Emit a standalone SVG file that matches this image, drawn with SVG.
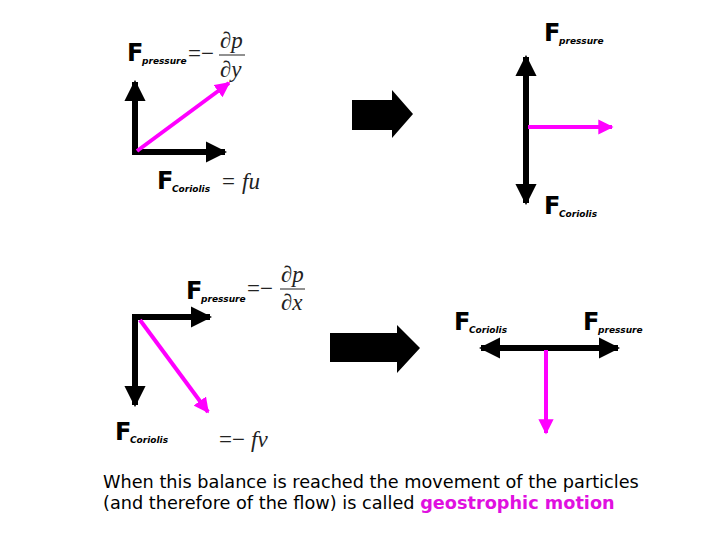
<svg xmlns="http://www.w3.org/2000/svg" width="720" height="540" viewBox="0 0 720 540">
<style>
.F{font-family:"DejaVu Sans",sans-serif;font-weight:bold;font-size:24px;fill:#000}
.s{font-family:"DejaVu Sans",sans-serif;font-weight:bold;font-style:italic;font-size:9px;fill:#000}
.m{font-family:"Liberation Serif",serif;font-style:italic;font-size:23px;fill:#222}
.n{font-family:"Liberation Serif",serif;font-size:23px;fill:#222}
.blk{stroke:#000;stroke-width:6;fill:none}
.mag{stroke:#f0f;stroke-width:4;fill:none}
.t{font-family:"DejaVu Sans",sans-serif;font-size:17.7px;fill:#000}
</style>
<defs>
<marker id="hb" viewBox="0 0 10 10" refX="9" refY="5" markerWidth="3.6" markerHeight="3.6" orient="auto-start-reverse" markerUnits="strokeWidth"><path d="M0,0L10,5L0,10z" fill="#000"/></marker>
<marker id="hm" viewBox="0 0 10 10" refX="9" refY="5" markerWidth="3.8" markerHeight="3.8" orient="auto" markerUnits="strokeWidth"><path d="M0,0L10,5L0,10z" fill="#f0f"/></marker>
</defs>
<rect width="720" height="540" fill="#fff"/>
<g id="connectors">
<path class="blk" d="M135,155V82" marker-end="url(#hb)"/>
<path class="blk" d="M132,152H225" marker-end="url(#hb)"/>
<path class="mag" d="M137,151L229,83" marker-end="url(#hm)"/>
<path d="M352,100H392V90L413,114L392,138V130H352z" fill="#000"/>
<path d="M330,333H397V325L420,348L397,373V362H330z" fill="#000"/>
<path class="blk" d="M526,57V203" marker-start="url(#hb)" marker-end="url(#hb)"/>
<path class="mag" d="M528,127H612" marker-end="url(#hm)"/>
<path class="blk" d="M132,317H210" marker-end="url(#hb)"/>
<path class="blk" d="M135,314V405" marker-end="url(#hb)"/>
<path class="mag" d="M140,320L208,412" marker-end="url(#hm)"/>
<path class="blk" d="M481,348H618" marker-start="url(#hb)" marker-end="url(#hb)"/>
<path class="mag" d="M546,350V433" marker-end="url(#hm)"/>
</g>
<g id="label-tl-pressure">
<text class="F" x="127" y="61">F</text><text class="s" x="142" y="64">pressure</text>
<text class="n" x="188" y="61">=−</text><text class="m" x="220" y="48">∂p</text>
<line x1="219" y1="55" x2="245" y2="55" stroke="#222" stroke-width="1"/>
<text class="m" x="220" y="77">∂y</text>
</g>
<g id="label-tl-coriolis">
<text class="F" x="157" y="189">F</text><text class="s" x="172" y="192">Coriolis</text>
<text class="n" x="222" y="189">= </text><text class="m" x="242" y="189">fu</text>
</g>
<g id="label-tr">
<text class="F" x="544" y="41">F</text><text class="s" x="559" y="44">pressure</text>
<text class="F" x="544" y="214">F</text><text class="s" x="559" y="217">Coriolis</text>
</g>
<g id="label-bl-pressure">
<text class="F" x="186" y="299">F</text><text class="s" x="201" y="302">pressure</text>
<text class="n" x="247" y="296">=−</text><text class="m" x="281" y="282">∂p</text>
<line x1="280" y1="289" x2="305" y2="289" stroke="#222" stroke-width="1"/>
<text class="m" x="281" y="310">∂x</text>
</g>
<g id="label-bl-coriolis">
<text class="F" x="115" y="440">F</text><text class="s" x="130" y="443">Coriolis</text>
<text class="n" x="219" y="447">=−</text><text class="m" x="251" y="447">fv</text>
</g>
<g id="label-br">
<text class="F" x="454" y="330">F</text><text class="s" x="469" y="333">Coriolis</text>
<text class="F" x="583" y="330">F</text><text class="s" x="598" y="333">pressure</text>
</g>
<g id="caption">
<text class="t" x="103" y="488">When this balance is reached the movement of the particles</text>
<text class="t" x="103" y="509">(and therefore of the flow) is called <tspan fill="#e010e0" font-weight="bold">geostrophic motion</tspan></text>
</g>
</svg>
